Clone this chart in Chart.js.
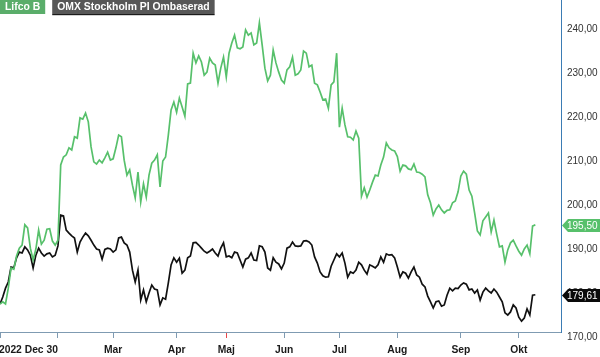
<!DOCTYPE html>
<html><head><meta charset="utf-8">
<script src="https://cdn.jsdelivr.net/npm/chart.js@4/dist/chart.umd.min.js"></script>
<style>html,body{margin:0;padding:0;background:#fff;}canvas{display:block;}</style>
</head><body>
<canvas id="c" width="600" height="357"></canvas>
<script>
const seriesNames = ['Lifco B', 'OMX Stockholm PI Ombaserad'];
const lifco = [
177.5,178.0,177.5,181.1,185.7,185.4,188.4,190.2,190.9,195.5,
194.8,190.2,187.5,190.0,194.3,191.1,192.0,194.5,194.6,191.8,
190.9,192.0,209.1,210.9,211.4,213.0,212.5,215.5,215.2,219.8,
219.5,220.9,218.9,213.2,209.8,209.3,210.2,209.6,210.7,212.0,
210.2,210.5,213.0,215.9,215.5,210.2,206.8,208.0,204.5,201.6,
207.5,200.7,204.8,201.8,206.8,209.5,210.2,211.4,204.1,210.0,
210.9,215.9,221.6,223.4,221.1,224.3,222.3,220.2,227.5,227.7,
234.5,232.3,233.9,232.5,229.5,230.2,233.4,232.3,231.8,227.7,
231.1,233.6,229.1,234.5,236.8,238.6,235.7,235.5,235.9,239.8,
238.6,239.1,236.4,236.8,241.4,236.4,231.1,228.2,229.5,235.2,
232.3,230.2,228.4,227.7,230.7,231.4,233.6,229.5,229.8,230.7,
235.0,234.5,231.4,231.8,227.7,227.3,225.7,223.9,224.1,222.0,
227.3,228.0,234.5,217.7,222.0,218.2,215.5,215.4,214.8,216.8,
215.2,202.0,203.9,201.8,203.4,205.2,206.8,206.6,209.1,210.9,
214.1,213.0,212.5,212.3,211.0,207.7,209.1,208.9,208.2,208.0,
209.3,207.5,207.4,207.0,206.4,202.3,200.5,197.7,199.1,200.0,
198.9,198.2,198.8,198.9,200.5,200.9,203.0,206.6,207.7,207.0,
203.4,202.0,198.2,194.1,193.2,196.4,197.3,198.2,193.9,196.6,
193.4,190.5,190.7,187.0,189.8,191.4,192.0,190.7,189.5,188.6,
190.0,190.9,188.9,195.2,195.5
];
const omx = [
177.5,179.1,181.1,182.5,185.9,185.7,188.0,189.3,189.1,190.5,
189.8,188.6,185.7,188.6,190.2,189.1,188.4,188.9,189.1,188.2,
188.6,190.7,197.7,197.5,194.3,193.6,193.0,192.5,189.3,191.6,
192.7,193.6,193.0,192.0,190.9,190.0,189.8,187.7,189.9,190.2,
190.0,189.3,189.8,192.5,192.7,191.4,190.9,189.3,185.2,182.5,
185.2,178.4,180.7,178.0,180.0,181.8,180.9,180.7,177.3,178.9,
178.6,182.3,186.4,188.0,187.0,187.9,184.5,185.2,188.0,188.4,
191.4,191.5,190.9,190.2,189.5,189.1,189.5,190.0,189.1,188.4,
190.2,191.4,188.2,188.4,188.0,189.3,189.1,187.5,185.9,187.7,
188.0,189.1,187.5,187.4,190.7,190.5,189.3,185.7,185.2,188.0,
187.0,186.6,185.5,186.8,190.2,190.5,191.6,190.7,190.6,190.7,
191.8,191.9,191.6,190.9,188.2,186.8,184.8,183.9,183.6,183.7,
186.1,187.5,188.9,188.2,189.1,186.8,183.6,184.8,184.5,185.2,
187.0,186.4,185.2,184.3,186.4,186.1,185.7,186.4,188.2,187.0,
188.9,188.6,188.7,188.0,185.9,183.6,184.8,184.5,183.4,184.8,
185.9,184.1,183.6,182.0,181.4,179.3,178.0,176.6,178.0,178.2,
177.0,177.3,179.5,181.1,180.5,181.1,181.0,181.8,182.3,182.0,
180.7,180.9,180.0,180.7,178.4,180.2,181.1,180.5,180.0,180.9,
180.2,179.1,178.0,175.5,175.0,175.7,177.3,176.6,174.5,173.6,
174.3,176.4,175.0,179.5,179.61
];
const monthTickIdx = [0, 10.3, 21, 41, 64, 82, 103, 123, 144, 167, 188];
const monthTickLabels = ['', '2022 Dec 30', '', 'Mar', 'Apr', 'Maj', 'Jun', 'Jul', 'Aug', 'Sep', 'Okt'];
const yTickValues = [170, 180, 190, 200, 210, 220, 230, 240];

const FONT = '"Liberation Sans", Arial, sans-serif';
const GREEN = '#57c06b';
const GREEN_BOX = '#5aad6a';
const BLACK = '#111111';

const fmt = v => v.toFixed(2).replace('.', ',');

const headerLegend = {
  id: 'headerLegend',
  afterDraw(chart) {
    const ctx = chart.ctx;
    ctx.save();
    ctx.font = 'bold 10.4px ' + FONT;
    ctx.textBaseline = 'middle';
    const fills = [GREEN_BOX, '#575757'];
    let x = 0;
    chart.data.datasets.forEach((ds, i) => {
      const w = ctx.measureText(ds.label).width + 10;
      ctx.fillStyle = fills[i];
      ctx.fillRect(x, 0, w, 14);
      if (i === 1) { ctx.fillStyle = '#1a1a1a'; ctx.fillRect(x, 14, w, 1.2); }
      ctx.fillStyle = '#ffffff';
      ctx.fillText(ds.label, x + 5, 7.5);
      x += w + 7;
    });
    ctx.restore();
  }
};

const lastValueTags = {
  id: 'lastValueTags',
  afterDraw(chart) {
    const ctx = chart.ctx;
    const yScale = chart.scales.y;
    const xr = chart.chartArea.right;
    const fills = [GREEN, '#0a0a0a'];
    ctx.save();
    ctx.font = '10px ' + FONT;
    ctx.textBaseline = 'middle';
    chart.data.datasets.forEach((ds, i) => {
      const last = ds.data[ds.data.length - 1];
      const y = Math.round(yScale.getPixelForValue(last.y)) + 0.5;
      const h = 13;
      ctx.fillStyle = fills[i];
      ctx.beginPath();
      ctx.moveTo(xr + 1, y);
      ctx.lineTo(xr + 7, y - h / 2);
      ctx.lineTo(600, y - h / 2);
      ctx.lineTo(600, y + h / 2);
      ctx.lineTo(xr + 7, y + h / 2);
      ctx.closePath();
      ctx.fill();
      ctx.fillStyle = '#ffffff';
      ctx.fillText(fmt(last.y), xr + 6, y + 0.5);
    });
    ctx.restore();
  }
};

new Chart(document.getElementById('c'), {
  type: 'line',
  data: {
    datasets: [
      { label: seriesNames[0], data: lifco.map((v, i) => ({ x: i, y: v })), borderColor: GREEN, borderWidth: 1.7, pointRadius: 0, tension: 0, fill: false },
      { label: seriesNames[1], data: omx.map((v, i) => ({ x: i, y: v })), borderColor: BLACK, borderWidth: 1.7, pointRadius: 0, tension: 0, fill: false }
    ]
  },
  options: {
    responsive: false,
    animation: false,
    devicePixelRatio: 1,
    layout: { padding: 0 },
    plugins: { legend: { display: false }, tooltip: { enabled: false } },
    scales: {
      x: {
        type: 'linear', position: 'bottom', min: 0, max: 203.3,
        afterBuildTicks: s => { s.ticks = monthTickIdx.map(v => ({ value: v })); },
        afterFit: s => { s.height = 25; s.paddingLeft = 0; s.paddingRight = 0; },
        ticks: {
          autoSkip: false, maxRotation: 0, minRotation: 0, padding: 6,
          color: '#1a1a1a', font: { family: FONT, size: 10.3, weight: 'bold' },
          callback: (v, i) => monthTickLabels[i]
        },
        grid: {
          display: true, drawOnChartArea: false, drawTicks: true, tickLength: 6,
          color: 'rgba(0,0,0,0)',
          tickColor: c => (c.index === 1 ? 'rgba(0,0,0,0)' : (monthTickLabels[c.index] === 'Maj' ? '#e8474a' : '#7f9bb2'))
        },
        border: { display: true, color: '#7f9bb2', width: 1 }
      },
      y: {
        type: 'linear', position: 'right', min: 171.14, max: 246.59,
        afterBuildTicks: s => { s.ticks = yTickValues.map(v => ({ value: v })); },
        afterFit: s => { s.width = 39; s.paddingTop = 0; s.paddingBottom = 0; },
        ticks: { padding: 6, color: '#333333', font: { family: FONT, size: 10 }, callback: v => fmt(v) },
        grid: { display: false, drawTicks: false },
        border: { display: true, color: '#3b7cb4', width: 1 }
      }
    }
  },
  plugins: [headerLegend, lastValueTags]
});
</script>
</body></html>
